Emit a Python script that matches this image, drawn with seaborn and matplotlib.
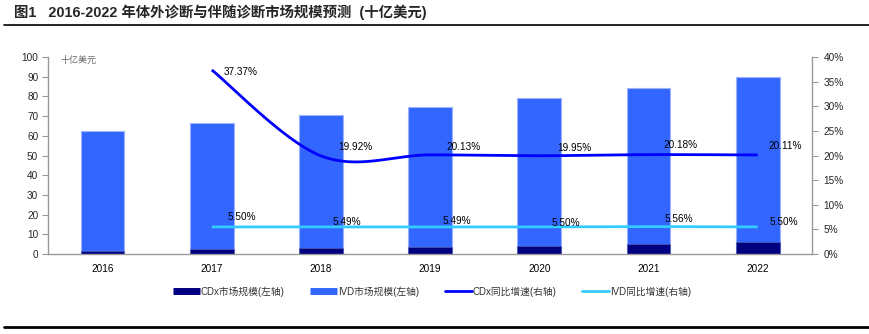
import numpy as np
import pandas as pd
import matplotlib
matplotlib.use("Agg")
import matplotlib.pyplot as plt
from matplotlib.lines import Line2D
import seaborn as sns

# ---------------- data ----------------
years = ["2016", "2017", "2018", "2019", "2020", "2021", "2022"]
cdx_size = [1.72, 2.36, 2.83, 3.40, 4.08, 4.90, 5.89]          # 十亿美元
ivd_size = [60.7, 64.0, 67.5, 71.3, 75.2, 79.4, 83.8]          # 十亿美元 (stacked above CDx)
cdx_growth = [None, 37.37, 19.92, 20.13, 19.95, 20.18, 20.11]  # %
ivd_growth = [None, 5.50, 5.49, 5.49, 5.50, 5.56, 5.50]        # %
cdx_growth_labels = ["", "37.37%", "19.92%", "20.13%", "19.95%", "20.18%", "20.11%"]
ivd_growth_labels = ["", "5.50%", "5.49%", "5.49%", "5.50%", "5.56%", "5.50%"]

title_text = "图1   2016-2022 年体外诊断与伴随诊断市场规模预测  (十亿美元)"
unit_text = "十亿美元"
legend_labels = ["CDx市场规模(左轴)", "IVD市场规模(左轴)", "CDx同比增速(右轴)", "IVD同比增速(右轴)"]

# label offsets in pixels (layout only)
cdx_lab_off = [(0, 0), (12, -2), (17, 9), (16, 8), (18, 8), (15, 10), (11, 9)]
ivd_lab_off = [(0, 0), (16, 10), (12, 5), (12, 6), (12, 4), (16, 8), (12, 5)]

# ---------------- style ----------------
sns.set_theme(style="white")
plt.rcParams["font.family"] = ["Liberation Sans", "Noto Sans CJK SC", "DejaVu Sans"]
plt.rcParams["axes.unicode_minus"] = False

C_CDX = "#000080"
C_IVD = "#3366FF"
C_CDX_LINE = "#0000FF"
C_IVD_LINE = "#33CCFF"
AX_GRAY = "#999999"

fig = plt.figure(figsize=(8.69, 3.34), dpi=100)
ax = fig.add_axes([48 / 869, 80 / 334, (812.3 - 48) / 869, (254 - 57) / 334])

df = pd.DataFrame({"year": years, "cdx": cdx_size, "ivd": ivd_size})
df["total"] = df["cdx"] + df["ivd"]

sns.barplot(data=df, x="year", y="total", color=C_IVD, saturation=1, width=0.4,
            edgecolor="#9DB3FF", linewidth=0.8, ax=ax)
sns.barplot(data=df, x="year", y="cdx", color=C_CDX, saturation=1, width=0.4,
            edgecolor="#5060B0", linewidth=0.5, ax=ax)

ax.set_xlim(-0.5, 6.5)
ax.set_ylim(0, 100)
ax.set_yticks(np.arange(0, 101, 10))
ax.set_xlabel("")
ax.set_ylabel("")
ax.set_xticks(range(len(years)))
ax.set_xticklabels(years)
ax.tick_params(axis="x", length=0, labelsize=7.2, pad=7, colors="black")
ax.tick_params(axis="y", length=4, width=0.8, color=AX_GRAY, labelsize=7.2, pad=3)
# category boundary ticks
ax.set_xticks(np.arange(-0.5, 7.0, 1.0), minor=True)
ax.tick_params(axis="x", which="minor", length=4, width=0.8, color=AX_GRAY, direction="out")
for s in ["top", "right"]:
    ax.spines[s].set_visible(False)
ax.spines["left"].set_color(AX_GRAY)
ax.spines["bottom"].set_color(AX_GRAY)
ax.spines["left"].set_linewidth(1)
ax.spines["bottom"].set_linewidth(1)

ax.text(0.016, 0.985, unit_text, transform=ax.transAxes, fontsize=6.5, color="#666666",
        family=["Noto Sans CJK SC"], va="center", ha="left")

# ---------------- right axis: growth lines ----------------
ax2 = ax.twinx()
ax2.set_ylim(0, 40)
ax2.set_yticks(np.arange(0, 41, 5))
ax2.set_yticklabels([f"{v}%" for v in range(0, 41, 5)])
ax2.tick_params(axis="y", length=4, width=0.8, color=AX_GRAY, labelsize=7.2, pad=4)
for s in ["top", "left", "bottom"]:
    ax2.spines[s].set_visible(False)
ax2.spines["right"].set_color(AX_GRAY)
ax2.spines["right"].set_linewidth(1)
ax2.grid(False)
ax.grid(False)


def smooth(xs, ys, n=40):
    """Excel-style smoothed line (Catmull-Rom Bezier) through given points."""
    pts = np.column_stack([xs, ys]).astype(float)
    out = []
    for i in range(len(pts) - 1):
        p0 = pts[i - 1] if i > 0 else pts[i]
        p1, p2 = pts[i], pts[i + 1]
        p3 = pts[i + 2] if i + 2 < len(pts) else pts[i + 1]
        c1 = p1 + (p2 - p0) / 6
        c2 = p2 - (p3 - p1) / 6
        t = np.linspace(0, 1, n)[:, None]
        seg = ((1 - t) ** 3) * p1 + 3 * ((1 - t) ** 2) * t * c1 + 3 * (1 - t) * t ** 2 * c2 + t ** 3 * p2
        out.append(seg if i == 0 else seg[1:])
    return np.vstack(out)


xi = [i for i, v in enumerate(cdx_growth) if v is not None]
cdx_vals = [cdx_growth[i] for i in xi]
ivd_vals = [ivd_growth[i] for i in xi]

cs = smooth(xi, cdx_vals)
ax2.plot(cs[:, 0], cs[:, 1], color=C_CDX_LINE, lw=2.0, solid_capstyle="butt")
iv = smooth(xi, ivd_vals)
ax2.plot(iv[:, 0], iv[:, 1], color=C_IVD_LINE, lw=2.0, solid_capstyle="butt")

for i in xi:
    ax2.annotate(cdx_growth_labels[i], (i, cdx_growth[i]), xytext=cdx_lab_off[i],
                 textcoords="offset pixels", ha="left", va="center", fontsize=7.2, color="black")
    ax2.annotate(ivd_growth_labels[i], (i, ivd_growth[i]), xytext=ivd_lab_off[i],
                 textcoords="offset pixels", ha="left", va="center", fontsize=7.2, color="black")

# ---------------- legend ----------------
handles = [
    Line2D([], [], color=C_CDX, lw=5, solid_capstyle="butt"),
    Line2D([], [], color=C_IVD, lw=5, solid_capstyle="butt"),
    Line2D([], [], color=C_CDX_LINE, lw=2),
    Line2D([], [], color=C_IVD_LINE, lw=2),
]
leg = fig.legend(handles, legend_labels, loc="center", bbox_to_anchor=(0.497, 0.128), ncol=4,
                 frameon=False, handlelength=2.8, handletextpad=0.1, columnspacing=2.6,
                 prop={"family": ["Liberation Sans", "Noto Sans CJK SC"], "size": 7})
for t in leg.get_texts():
    t.set_color("#333333")

# ---------------- title & rules ----------------
fig.text(14 / 869, 1 - 12 / 334, title_text, fontsize=10.4, fontweight="bold", ha="left", va="center",
         family=["Liberation Sans", "Noto Sans CJK SC"])
fig.add_artist(Line2D([4 / 869, 1], [1 - 25 / 334, 1 - 25 / 334], color="black", lw=1.2,
                      transform=fig.transFigure))
fig.add_artist(Line2D([4 / 869, 1], [1 - 327 / 334, 1 - 327 / 334], color="black", lw=2,
                      transform=fig.transFigure))

fig.savefig("out.png", dpi=100)
